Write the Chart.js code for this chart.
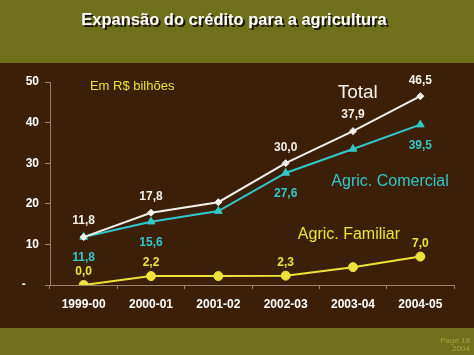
<!DOCTYPE html>
<html><head><meta charset="utf-8">
<style>html,body{margin:0;padding:0;background:#3b1f08;}#wrap{width:474px;height:355px;position:relative;}</style>
<script src="https://cdn.jsdelivr.net/npm/chart.js@4"></script>
</head><body><div id="wrap"><canvas id="c" width="474" height="355"></canvas></div>
<script>
const categories = ['1999-00','2000-01','2001-02','2002-03','2003-04','2004-05'];
const totalValues = [11.8, 17.8, 20.4, 30.0, 37.9, 46.5];
const comercialValues = [11.8, 15.6, 18.2, 27.6, 33.5, 39.5];
const familiarValues = [0.0, 2.2, 2.2, 2.3, 4.4, 7.0];
const totalLabels = ['11,8','17,8','','30,0','37,9','46,5'];
const comercialLabels = ['11,8','15,6','','27,6','','39,5'];
const familiarLabels = ['0,0','2,2','','2,3','','7,0'];
const yTickLabels = {0:'-    ',10:'10',20:'20',30:'30',40:'40',50:'50'};
const titleText = 'Expansão do crédito para a agricultura';
const unitText = 'Em R$ bilhões';
const seriesNames = ['Total','Agric. Comercial','Agric. Familiar'];

const WHITE = '#f4f0ea', CYAN = '#33c8c8', YELLOW = '#eee23a';
const AXIS = '#9a8468';

const decor = {
  id: 'decor',
  beforeDraw(chart) {
    const ctx = chart.ctx;
    ctx.save();
    ctx.fillStyle = '#3b1f08';
    ctx.fillRect(0, 0, 474, 355);
    ctx.fillStyle = '#6f701b';
    ctx.fillRect(0, 0, 474, 63);
    ctx.fillRect(0, 328, 474, 27);
    // title
    ctx.font = 'bold 16.5px "Liberation Sans", Arial, sans-serif';
    ctx.textAlign = 'center';
    ctx.textBaseline = 'middle';
    ctx.fillStyle = '#1a1205';
    ctx.fillText(titleText, 236, 22);
    ctx.fillStyle = '#ffffff';
    ctx.fillText(titleText, 234, 20);
    // footer
    ctx.font = '8px "Liberation Sans", Arial, sans-serif';
    ctx.textAlign = 'right';
    ctx.fillStyle = '#a3a33e';
    ctx.fillText('Page 18', 470, 341);
    ctx.fillText('2004', 470, 349);
    ctx.restore();
  },
  afterDatasetsDraw(chart) {
    const ctx = chart.ctx;
    const xs = chart.scales.x, ys = chart.scales.y;
    ctx.save();
    ctx.textAlign = 'center';
    ctx.textBaseline = 'middle';
    ctx.font = 'bold 12px "Liberation Sans", Arial, sans-serif';
    const put = (labels, values, color, dy) => {
      ctx.fillStyle = color;
      labels.forEach((t, i) => {
        if (!t) return;
        ctx.fillText(t, xs.getPixelForValue(i), ys.getPixelForValue(values[i]) + dy);
      });
    };
    put(totalLabels, totalValues, WHITE, -16);
    put(comercialLabels, comercialValues, CYAN, 21);
    put(familiarLabels, familiarValues, YELLOW, -13);
    const at = (xi, v) => [xs.getPixelForValue(0) + xi * (xs.getPixelForValue(1) - xs.getPixelForValue(0)), ys.getPixelForValue(v)];
    ctx.font = '19px "Liberation Sans", Arial, sans-serif';
    ctx.fillStyle = WHITE;
    let p = at(4.07, 47.3); ctx.fillText(seriesNames[0], p[0], p[1]);
    ctx.font = '16px "Liberation Sans", Arial, sans-serif';
    ctx.fillStyle = CYAN;
    p = at(4.55, 25.4); ctx.fillText(seriesNames[1], p[0], p[1]);
    ctx.fillStyle = YELLOW;
    p = at(3.94, 12.3); ctx.fillText(seriesNames[2], p[0], p[1]);
    ctx.font = '13px "Liberation Sans", Arial, sans-serif';
    p = at(0.72, 49); ctx.fillText(unitText, p[0], p[1]);
    ctx.restore();
  }
};

new Chart(document.getElementById('c'), {
  type: 'line',
  data: {
    labels: categories,
    datasets: [
      { label: seriesNames[0], data: totalValues, borderColor: WHITE, backgroundColor: WHITE, borderWidth: 2,
        pointStyle: 'rectRot', pointRadius: 3.5, pointBorderWidth: 1 },
      { label: seriesNames[1], data: comercialValues, borderColor: CYAN, backgroundColor: CYAN, borderWidth: 2,
        pointStyle: 'triangle', pointRadius: 4.5, pointBorderWidth: 1 },
      { label: seriesNames[2], data: familiarValues, borderColor: YELLOW, backgroundColor: YELLOW, borderWidth: 2,
        pointStyle: 'circle', pointRadius: 4.5, pointBorderWidth: 1 }
    ]
  },
  options: {
    responsive: false,
    animation: false,
    devicePixelRatio: 1,
    layout: { padding: { left: 0, right: 20, top: 82, bottom: 0 } },
    plugins: { legend: { display: false }, tooltip: { enabled: false }, title: { display: false } },
    scales: {
      x: {
        offset: true,
        grid: { offset: true, drawOnChartArea: false, drawTicks: true, tickLength: 4, color: AXIS },
        border: { color: AXIS, width: 1 },
        ticks: { color: '#ffffff', font: { family: '"Liberation Sans", Arial, sans-serif', size: 12, weight: 'bold' }, padding: 8, maxRotation: 0 },
        afterFit(s) { s.height = 70; }
      },
      y: {
        min: 0, max: 50,
        grid: { drawOnChartArea: false, drawTicks: true, tickLength: 5, color: AXIS },
        border: { color: AXIS, width: 1 },
        ticks: { stepSize: 10, color: '#ffffff', padding: 6,
          font: { family: '"Liberation Sans", Arial, sans-serif', size: 12, weight: 'bold' },
          callback: v => yTickLabels[v] },
        afterFit(s) { s.width = 50; }
      }
    }
  },
  plugins: [decor]
});
</script></body></html>
